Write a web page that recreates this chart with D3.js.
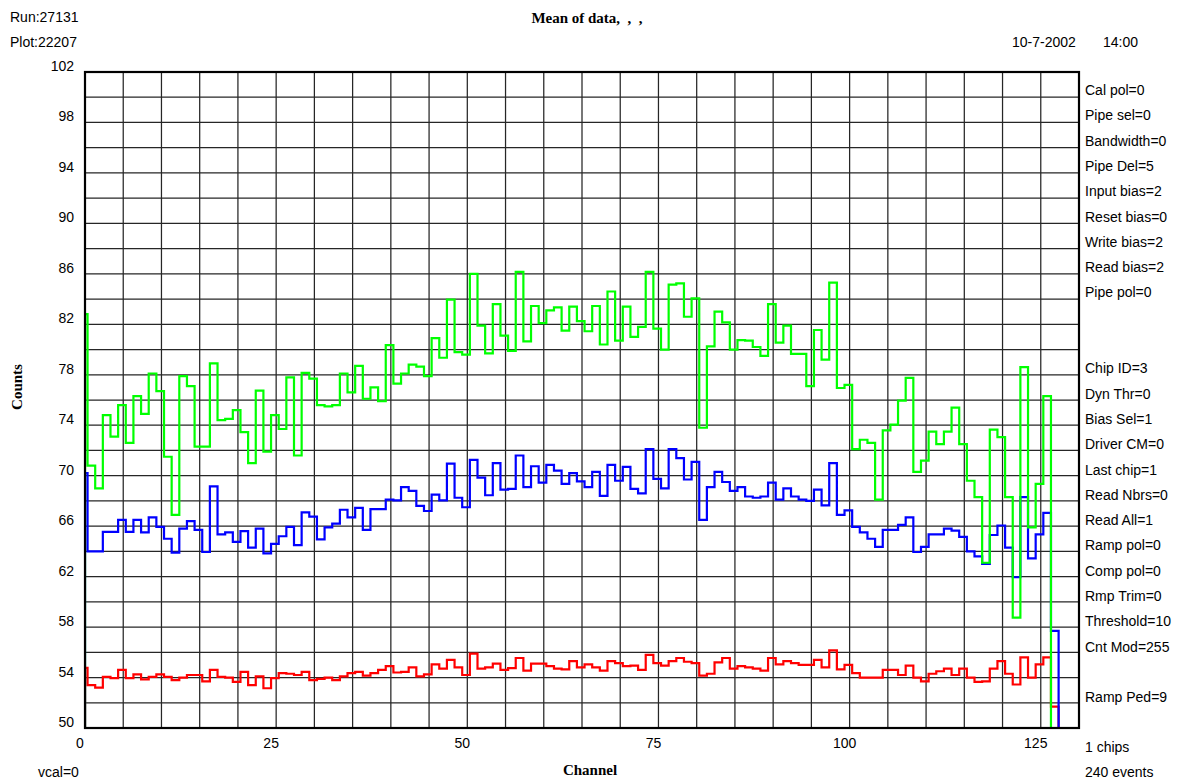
<!DOCTYPE html>
<html>
<head>
<meta charset="utf-8">
<script src="https://cdn.jsdelivr.net/npm/d3@7"></script>
<style>
  html, body { margin: 0; padding: 0; background: #fff; }
  svg { display: block; }
  .sans { font-family: "Liberation Sans", Arial, sans-serif; font-size: 14px; fill: #000; }
  .serifb { font-family: "Liberation Serif", "Times New Roman", serif; font-weight: bold; font-size: 15px; fill: #000; }
</style>
</head>
<body>
<svg id="chart" width="1186" height="780"></svg>
<script>
// Channel numbers (one bin per channel)
const channels = d3.range(128);

// Mean counts per channel for the three traces
const greenVals = [
  82.8, 70.8, 69.0, 74.8, 73.1, 75.6, 72.6, 76.3, 74.9, 78.1,
  76.7, 71.5, 66.9, 77.9, 77.1, 72.3, 72.3, 78.9, 74.4, 74.5,
  75.2, 73.45, 71.0, 76.75, 71.9, 74.8, 73.7, 77.8, 71.6, 78.15,
  77.7, 75.6, 75.5, 75.6, 78.1, 76.6, 78.7, 76.1, 77.0, 75.9,
  80.35, 77.3, 78.1, 78.8, 78.65, 77.9, 80.9, 79.35, 83.95, 79.8,
  79.6, 86.0, 81.9, 79.7, 83.6, 81.1, 79.9, 86.15, 80.65, 83.45,
  82.1, 83.1, 83.35, 81.5, 83.4, 82.25, 81.45, 83.45, 80.4, 84.6,
  80.7, 83.4, 81.0, 81.8, 86.15, 81.65, 80.0, 85.15, 85.25, 82.6,
  84.05, 73.8, 80.25, 83.0, 82.15, 80.0, 80.75, 80.7, 80.2, 79.5,
  83.6, 80.55, 81.9, 79.65, 79.65, 77.1, 81.55, 79.2, 85.3, 76.95,
  77.2, 72.1, 72.85, 72.6, 68.1, 73.6, 74.05, 75.95, 77.75, 70.3,
  71.2, 73.5, 72.5, 73.5, 75.4, 72.5, 69.6, 68.3, 63.1, 73.65,
  73.05, 68.3, 58.75, 78.6, 65.9, 69.35, 76.3, 0
];
const blueVals = [
  70.2, 64.0, 64.0, 65.55, 65.55, 66.5, 65.55, 66.5, 65.5, 66.7,
  65.95, 65.0, 63.9, 65.8, 66.4, 65.7, 63.95, 69.15, 65.35, 65.5,
  64.75, 65.6, 64.3, 65.8, 63.85, 64.6, 65.2, 65.95, 64.5, 67.1,
  66.75, 64.95, 65.9, 66.2, 67.3, 66.7, 67.45, 65.7, 67.35, 67.35,
  68.1, 68.05, 69.1, 68.8, 67.6, 67.2, 68.5, 68.05, 70.95, 68.25,
  67.5, 71.25, 69.85, 68.45, 71.0, 68.9, 68.95, 71.6, 69.1, 70.75,
  69.45, 70.85, 70.4, 69.35, 70.2, 69.55, 69.1, 70.3, 68.4, 70.85,
  69.6, 70.7, 68.95, 68.6, 72.1, 69.75, 69.0, 72.1, 71.4, 69.7,
  71.1, 66.5, 69.1, 70.3, 69.5, 68.8, 69.1, 68.35, 68.25, 68.35,
  69.45, 68.1, 69.0, 68.35, 68.1, 68.0, 68.9, 67.65, 71.0, 66.9,
  67.25, 65.95, 65.5, 65.0, 64.35, 65.7, 65.7, 66.1, 66.7, 63.95,
  64.35, 65.35, 65.35, 65.8, 65.65, 65.15, 64.0, 63.6, 63.0, 65.3,
  66.05, 64.3, 61.95, 68.3, 63.45, 65.35, 67.05, 57.7
];
const redVals = [
  54.77, 53.4, 53.2, 54.05, 53.95, 54.6, 53.95, 54.25, 53.85, 54.05,
  54.25, 54.05, 53.8, 54.0, 54.2, 54.2, 53.7, 54.6, 54.05, 54.0,
  53.65, 54.45, 53.4, 54.1, 53.15, 53.95, 54.35, 54.3, 54.2, 54.45,
  53.8, 53.9, 54.0, 53.8, 54.1, 54.35, 54.45, 54.15, 54.35, 54.6,
  54.9, 54.4, 54.45, 54.8, 54.1, 54.25, 55.05, 54.7, 55.4, 54.8,
  54.2, 55.9, 54.7, 54.8, 55.1, 54.6, 54.75, 55.55, 54.55, 55.1,
  55.1, 54.9, 54.7, 54.65, 55.3, 54.8, 55.05, 54.8, 54.55, 55.3,
  55.15, 54.9, 54.95, 54.6, 55.8, 55.15, 54.95, 55.3, 55.55, 55.25,
  55.15, 54.15, 54.3, 55.2, 55.55, 54.7, 54.9, 54.8, 54.7, 54.55,
  55.55, 55.05, 55.3, 55.15, 55.0, 55.0, 55.4, 54.8, 56.15, 54.65,
  55.0, 54.35, 54.0, 54.0, 54.0, 54.6, 54.6, 54.2, 54.95, 54.0,
  53.7, 54.3, 54.5, 54.7, 54.2, 54.7, 54.0, 53.65, 53.7, 54.7,
  55.3, 54.3, 53.45, 55.6, 54.0, 55.05, 55.6, 51.7
];

// Axis ticks
const yTickLabels = [102, 98, 94, 90, 86, 82, 78, 74, 70, 66, 62, 58, 54, 50];
const xTickLabels = [0, 25, 50, 75, 100, 125];

// Chip settings listed to the right of the plot ("" leaves an empty row)
const settingRows = [
  "Cal pol=0", "Pipe sel=0", "Bandwidth=0", "Pipe Del=5", "Input bias=2",
  "Reset bias=0", "Write bias=2", "Read bias=2", "Pipe pol=0", "", "",
  "Chip ID=3", "Dyn Thr=0", "Bias Sel=1", "Driver CM=0", "Last chip=1",
  "Read Nbrs=0", "Read All=1", "Ramp pol=0", "Comp pol=0", "Rmp Trim=0",
  "Threshold=10", "Cnt Mod=255", "", "Ramp Ped=9"
];

const svg = d3.select("#chart");
const plotL = 85, plotR = 1079, plotT = 72, plotB = 728;

const x = d3.scaleLinear().domain([0, 130]).range([plotL, plotR]);
const y = d3.scaleLinear().domain([50, 102]).range([plotB, plotT]);

// grid: every 5 channels and every 2 counts
const grid = svg.append("g").attr("stroke", "#262626").attr("stroke-width", 1.25);
grid.selectAll("line.v").data(d3.range(5, 130, 5)).join("line").attr("class", "v")
  .attr("x1", d => x(d)).attr("x2", d => x(d)).attr("y1", plotT).attr("y2", plotB);
grid.selectAll("line.h").data(d3.range(52, 102, 2)).join("line").attr("class", "h")
  .attr("x1", plotL).attr("x2", plotR).attr("y1", d => y(d)).attr("y2", d => y(d));

// clip for traces
svg.append("clipPath").attr("id", "plotclip").append("rect")
  .attr("x", plotL).attr("y", plotT).attr("width", plotR - plotL).attr("height", plotB - plotT);

// step outline for one trace: bins end a third of a channel past the channel number
function stepPoints(vals) {
  const pts = [[0, 0]];
  channels.forEach((c, i) => pts.push([Math.max(0, c - 2 / 3), vals[i]]));
  pts.push([channels[channels.length - 1] + 1 / 3, 0]);
  return pts;
}
const line = d3.line().x(d => x(d[0])).y(d => y(d[1])).curve(d3.curveStepAfter);

const traces = [
  { vals: redVals, color: "#ff0000" },
  { vals: blueVals, color: "#0000ff" },
  { vals: greenVals, color: "#00ff00" }
];
const tg = svg.append("g").attr("clip-path", "url(#plotclip)");
tg.selectAll("path").data(traces).join("path")
  .attr("d", d => line(stepPoints(d.vals)))
  .attr("fill", "none")
  .attr("stroke", d => d.color)
  .attr("stroke-width", 2.2)
  .attr("stroke-linejoin", "miter");

// frame
svg.append("rect").attr("x", plotL).attr("y", plotT).attr("width", plotR - plotL).attr("height", plotB - plotT)
  .attr("fill", "none").attr("stroke", "#000").attr("stroke-width", 2.2);

// y tick labels
svg.append("g").selectAll("text").data(yTickLabels).join("text")
  .attr("class", "sans").attr("text-anchor", "end")
  .attr("x", 74).attr("y", d => y(d) - 1)
  .text(d => d);

// x tick labels
svg.append("g").selectAll("text").data(xTickLabels).join("text")
  .attr("class", "sans").attr("text-anchor", "middle")
  .attr("x", d => x(d) - 5).attr("y", 748)
  .text(d => d);

// header texts
svg.append("text").attr("class", "sans").attr("x", 10).attr("y", 22).text("Run:27131");
svg.append("text").attr("class", "sans").attr("x", 10).attr("y", 47).text("Plot:22207");
svg.append("text").attr("class", "serifb").attr("x", 587).attr("y", 23).attr("text-anchor", "middle")
  .attr("font-size", 16).text("Mean of data,\u00a0\u00a0,\u00a0\u00a0,");
svg.append("text").attr("class", "sans").attr("x", 1012).attr("y", 47).text("10-7-2002");
svg.append("text").attr("class", "sans").attr("x", 1103).attr("y", 47).text("14:00");

// axis titles
svg.append("text").attr("class", "serifb")
  .attr("transform", "translate(22,387) rotate(-90)").attr("text-anchor", "middle").text("Counts");
svg.append("text").attr("class", "serifb").attr("x", 590).attr("y", 775).attr("text-anchor", "middle").text("Channel");

// footer texts
svg.append("text").attr("class", "sans").attr("x", 38).attr("y", 777).text("vcal=0");
svg.append("text").attr("class", "sans").attr("x", 1085).attr("y", 752).text("1 chips");
svg.append("text").attr("class", "sans").attr("x", 1085).attr("y", 777).text("240 events");

// settings column
svg.append("g").selectAll("text").data(settingRows).join("text")
  .attr("class", "sans").attr("x", 1085).attr("y", (d, i) => 95 + i * 25.3)
  .text(d => d);
</script>
</body>
</html>
